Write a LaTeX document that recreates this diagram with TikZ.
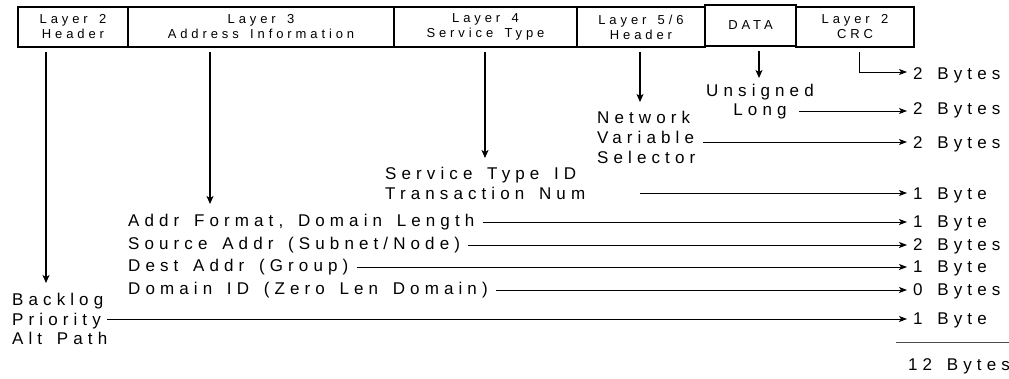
\documentclass[tikz,border=0pt]{standalone}
\usepackage{fontspec}
\setmainfont{Liberation Sans}[LetterSpace=30, WordSpace=1.5]
\usetikzlibrary{arrows.meta}

\tikzset{
	field/.style={draw, line width=1.6pt, inner sep=0pt, align=center, font=\fontsize{13}{15}\selectfont},
	lbl/.style={inner sep=0pt, align=left, anchor=west, font=\fontsize{17}{19.5}\selectfont},
	down/.style={line width=1.6pt, -{Stealth[length=8pt,width=7pt,inset=2pt]}, shorten <=4pt},
	over/.style={line width=0.8pt, -{Stealth[length=8pt,width=6pt,inset=2pt]}, shorten <=8pt, shorten >=6pt},
}

\begin{document}
\begin{tikzpicture}[x=1pt,y=-1pt]
		\useasboundingbox (0,0) rectangle (1009,378);
		% packet fields
		\node[field, minimum width=110pt, minimum height=40pt] (l2h) at (73,27) {Layer 2\\Header};
		\node[field, minimum width=266pt, minimum height=40pt] (l3) at (261,27) {Layer 3\\Address Information};
		\node[field, minimum width=183pt, minimum height=40pt] (l4) at (485.5,27) {Layer 4\\Service Type};
		\node[field, minimum width=128pt, minimum height=40pt] (l56) at (641,27) {Layer 5/6\\Header};
		\node[field, minimum width=91pt, minimum height=41pt] (data) at (750.5,25.5) {DATA};
		\node[field, minimum width=118pt, minimum height=40pt] (crc) at (855,27) {Layer 2\\CRC};

		% what each field holds
		\node[lbl] (backlog) at (12,319) {Backlog\\Priority\\Alt Path};
		\node[lbl] (addr) at (128,222) {Addr Format, Domain Length};
		\node[lbl] (src) at (128,245) {Source Addr (Subnet/Node)};
		\node[lbl] (dest) at (128,267) {Dest Addr (Group)};
		\node[lbl] (dom) at (128,290) {Domain ID (Zero Len Domain)};
		\node[lbl] (svc) at (385,175) {Service Type ID};
		\node[lbl] (trans) at (385,193) {Transaction Num};
		\node[lbl, font=\fontsize{17}{20}\selectfont] (nvs) at (597,137) {Network\\Variable\\Selector};
		\node[lbl, anchor=center] (uns) at (760,92) {Unsigned};
		\node[lbl, anchor=center] (long) at (760,111) {Long};

		% sizes
		\node[lbl] (b1) at (913,75) {2 Bytes};
		\node[lbl] (b2) at (913,110) {2 Bytes};
		\node[lbl] (b3) at (913,144) {2 Bytes};
		\node[lbl] (b4) at (913,195) {1 Byte};
		\node[lbl] (b5) at (913,223) {1 Byte};
		\node[lbl] (b6) at (913,246) {2 Bytes};
		\node[lbl] (b7) at (913,268) {1 Byte};
		\node[lbl] (b8) at (913,291) {0 Bytes};
		\node[lbl] (b9) at (913,320) {1 Byte};
		\node[lbl] (total) at (908,366) {12 Bytes};
		\draw[line width=1pt, black!70] (896,342) -- (1009,342);

		% arrows down from the fields
		\coordinate (t2) at (46,283);
		\coordinate (t3) at (210,204);
		\coordinate (t4) at (485,158);
		\coordinate (t56) at (640,102);
		\coordinate (tdat) at (759,78);
		\coordinate (tcrc) at (859,72);
		\coordinate (tn) at (640,193);
		\draw[down] (l2h.south -| t2) -- (t2);
		\draw[down] (l3.south -| t3) -- (t3);
		\draw[down] (l4.south -| t4) -- (t4);
		\draw[down] (l56.south -| t56) -- (t56);
		\draw[down] (data.south -| tdat) -- (tdat);
		\draw[over, shorten <=4pt] (crc.south -| tcrc) -- (tcrc) -- (tcrc -| b1.west);

		% arrows across to the sizes
		\draw[over, shorten <=12pt] (long.east) -- (long.east -| b2.west);
		\draw[over] (nvs.east) ++(0,5) -- (b3.west |- 0,142);
		\draw[over, shorten <=0pt] (tn) -- (tn -| b4.west);
		\draw[over] (addr.east) -- (addr.east -| b5.west);
		\draw[over] (src.east) -- (src.east -| b6.west);
		\draw[over] (dest.east) -- (dest.east -| b7.west);
		\draw[over] (dom.east) -- (dom.east -| b8.west);
		\draw[over, shorten <=0pt] (backlog.east) -- (backlog.east -| b9.west);
	\end{tikzpicture}
\end{document}
